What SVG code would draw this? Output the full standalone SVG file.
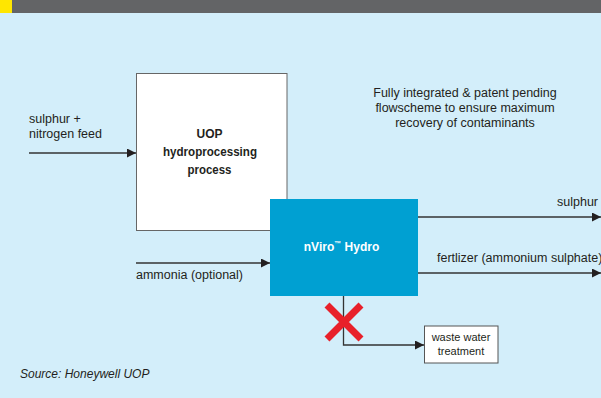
<svg xmlns="http://www.w3.org/2000/svg" width="601" height="398" viewBox="0 0 601 398">
<style>
.lbl{font-family:"Liberation Sans",Arial,sans-serif;font-size:12.5px;fill:#231f20}
.bold{font-family:"Liberation Sans",Arial,sans-serif;font-weight:bold;font-size:13px;fill:#231f20;text-anchor:middle}
.ln{stroke:#333;stroke-width:1.3;fill:none}
</style>
<defs>
<marker id="ah" markerWidth="9" markerHeight="9" refX="9" refY="4.5" orient="auto" markerUnits="userSpaceOnUse">
<path d="M0,0 L9,4.5 L0,9 Z" fill="#231f20"/>
</marker>
</defs>
<rect x="0" y="0" width="601" height="398" fill="#d3eefa"/>
<rect x="0" y="0" width="601" height="13" fill="#636466"/>
<rect x="0" y="0" width="12" height="13" fill="#ffe600"/>
<g id="connectors">
<line class="ln" x1="29" y1="153" x2="136" y2="153" marker-end="url(#ah)"/>
<line class="ln" x1="136" y1="263" x2="270" y2="263" marker-end="url(#ah)"/>
<line class="ln" x1="418" y1="217" x2="601" y2="217" marker-end="url(#ah)"/>
<line class="ln" x1="418" y1="273" x2="601" y2="273" marker-end="url(#ah)"/>
<polyline class="ln" points="343.5,296 343.5,345 424,345" marker-end="url(#ah)"/>
</g>
<g id="uop">
<rect x="136.5" y="73.5" width="150.5" height="157" fill="#fff" stroke="#666" stroke-width="1"/>
<text class="bold" x="209.5" y="138" textLength="26" lengthAdjust="spacingAndGlyphs">UOP</text>
<text class="bold" x="210" y="156" textLength="94" lengthAdjust="spacingAndGlyphs">hydroprocessing</text>
<text class="bold" x="209.5" y="174" textLength="44" lengthAdjust="spacingAndGlyphs">process</text>
</g>
<g id="nviro">
<rect x="270" y="199" width="148" height="97" fill="#00a0d2"/>
<text class="bold" x="341.5" y="251" style="fill:#fff;font-size:12px">nViro<tspan font-size="7" dy="-5">™</tspan><tspan dy="5"> Hydro</tspan></text>
</g>
<g id="waste">
<rect x="424.5" y="326" width="73.5" height="37" fill="#fff" stroke="#555" stroke-width="1"/>
<text class="lbl" x="461" y="341" text-anchor="middle" style="font-size:11px">waste water</text>
<text class="lbl" x="461" y="355" text-anchor="middle" style="font-size:11px">treatment</text>
</g>
<g id="block">
<path d="M327,305 L361,339 M361,305 L327,339" stroke="#e8202a" stroke-width="7"/>
</g>
<g id="labels">
<text class="lbl" x="29" y="123">sulphur +</text>
<text class="lbl" x="29" y="138">nitrogen feed</text>
<text class="lbl" x="136" y="279">ammonia (optional)</text>
<text class="lbl" x="598" y="206" text-anchor="end">sulphur</text>
<text class="lbl" x="437" y="262">fertlizer (ammonium sulphate)</text>
<text class="lbl" x="465" y="97" text-anchor="middle">Fully integrated &amp; patent pending</text>
<text class="lbl" x="465" y="112" text-anchor="middle">flowscheme to ensure maximum</text>
<text class="lbl" x="465" y="127" text-anchor="middle">recovery of contaminants</text>
<text class="lbl" x="20" y="378" style="font-style:italic;font-size:12px">Source: Honeywell UOP</text>
</g>
</svg>
